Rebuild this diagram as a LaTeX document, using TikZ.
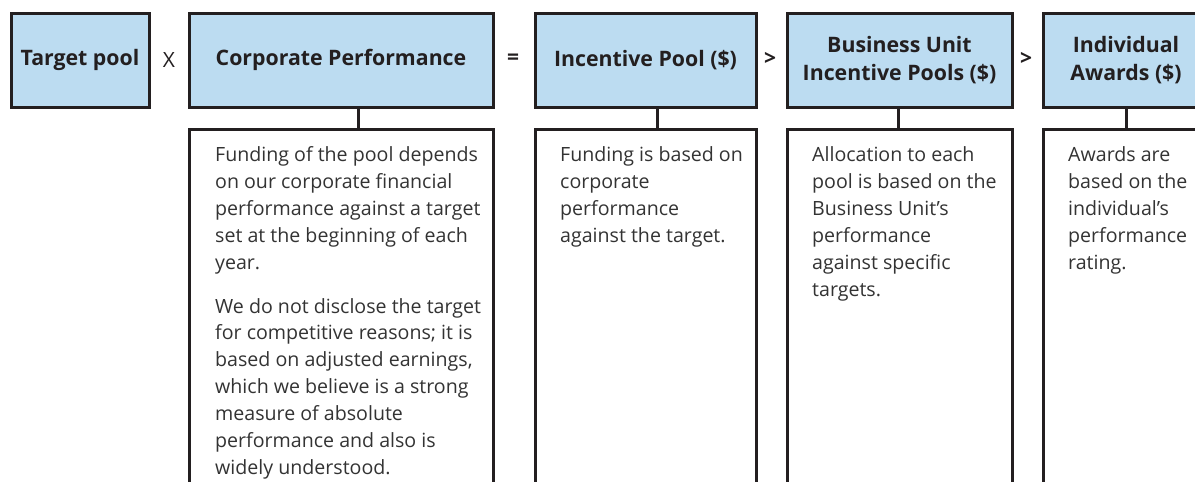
\documentclass[tikz,border=0pt]{standalone}
\usepackage{fontspec}
\setmainfont{Open Sans}
\definecolor{boxblue}{RGB}{188,220,241}
\definecolor{ink}{RGB}{35,31,32}
\definecolor{txt}{RGB}{51,51,51}
\newcommand{\bodytext}[1]{\parbox[t]{300pt}{\raggedright\fontsize{19.6}{26.9}\selectfont #1}}
\tikzset{
  hdr/.style={draw=ink, line width=3pt, fill=boxblue, inner sep=0pt, align=center,
    font=\fontsize{21.3}{28.5}\selectfont\bfseries, text=ink},
  opsym/.style={font=\fontsize{21}{22}\selectfont\bfseries, text=ink, inner sep=0pt},
  body/.style={anchor=base west, inner sep=0pt, text=txt},
  frame/.style={draw=ink, line width=3pt},
  stem/.style={draw=ink, line width=3pt}
}
\begin{document}
\begin{tikzpicture}[x=1pt,y=-1pt]
\useasboundingbox (0,0) rectangle (1195,482);
\begin{scope}
\clip (0,0) rectangle (1195,482);
% header boxes
\node[hdr, minimum width=138pt, minimum height=94pt] (tp) at (80,60) {Target pool};
\node[hdr, minimum width=304pt, minimum height=94pt] (cp) at (341,60) {Corporate Performance};
\node[hdr, minimum width=221pt, minimum height=94pt] (ip) at (645.5,60) {Incentive Pool (\$)};
\node[hdr, minimum width=225pt, minimum height=94pt] (bu) at (899.5,60) {Business Unit\\Incentive Pools (\$)};
\node[hdr, minimum width=166pt, minimum height=94pt] (ia) at (1126,60) {Individual\\Awards (\$)};
% operators
\node[opsym, font=\fontsize{21}{22}\selectfont] (o1) at (169,60) {X};
\node[opsym] (o2) at (513,59) {=};
\node[opsym] (o3) at (770,59) {>};
\node[opsym] (o4) at (1026,59) {>};
% text frames (open at the bottom)
\coordinate (cpa) at (189,490); \coordinate (cpb) at (189,129);
\coordinate (cpc) at (493,129); \coordinate (cpd) at (493,490);
\draw[frame] (cpa) -- (cpb) -- (cpc) -- (cpd);
\coordinate (ipa) at (535,490); \coordinate (ipb) at (535,129);
\coordinate (ipc) at (756,129); \coordinate (ipd) at (756,490);
\draw[frame] (ipa) -- (ipb) -- (ipc) -- (ipd);
\coordinate (bua) at (787,490); \coordinate (bub) at (787,129);
\coordinate (buc) at (1012,129); \coordinate (bud) at (1012,490);
\draw[frame] (bua) -- (bub) -- (buc) -- (bud);
\coordinate (iaa) at (1043,490); \coordinate (iab) at (1043,129);
\coordinate (iac) at (1209,129); \coordinate (iad) at (1209,490);
\draw[frame] (iaa) -- (iab) -- (iac) -- (iad);
% stems
\coordinate (cps) at (358,129); \coordinate (ips) at (657,129);
\coordinate (bus) at (898,129); \coordinate (ias) at (1126,129);
\draw[stem] (cp.south -| cps) -- (cps);
\draw[stem] (ip.south -| ips) -- (ips);
\draw[stem] (bu.south -| bus) -- (bus);
\draw[stem] (ia.south -| ias) -- (ias);
% body texts
\node[body] (t1) at (215,161.7) {\bodytext{Funding of the pool depends\\on our corporate financial\\performance against a target\\set at the beginning of each\\year.}};
\node[body] (t1b) at (215,313) {\bodytext{We do not disclose the target\\for competitive reasons; it is\\based on adjusted earnings,\\which we believe is a strong\\measure of absolute\\performance and also is\\widely understood.}};
\node[body] (t2) at (560,161.7) {\bodytext{Funding is based on\\corporate\\performance\\against the target.}};
\node[body] (t3) at (812,161.7) {\bodytext{Allocation to each\\pool is based on the\\Business Unit’s\\performance\\against specific\\targets.}};
\node[body] (t4) at (1068,161.7) {\bodytext{Awards are\\based on the\\individual’s\\performance\\rating.}};
\end{scope}
\end{tikzpicture}
\end{document}
